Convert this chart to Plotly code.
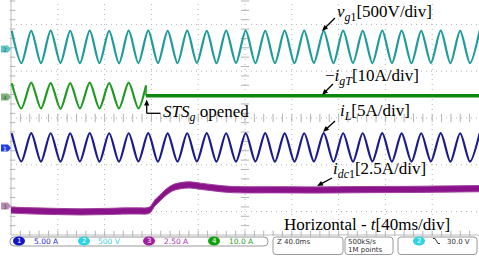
import math
import plotly.graph_objects as go

# ---------------- data ----------------
# times of the extrema (ms) of the 60 Hz waveforms, alternating peak / trough
t_ext = [0.6, 8.9, 17.3, 25.6, 33.9, 42.3, 50.6, 58.9, 67.3, 75.6, 83.9, 92.3,
         100.6, 108.9, 117.3, 125.6, 133.9, 142.3, 150.6, 158.9, 167.3, 175.6,
         183.9, 192.3, 200.6, 208.9, 217.3, 225.6, 233.9, 242.3, 250.6, 258.9,
         267.3, 275.6, 283.9, 292.3, 300.6, 308.9, 317.3, 325.6, 333.9, 342.3,
         350.6, 358.9, 367.3, 375.6, 383.9, 392.3, 400.6]
# grid voltage v_g1 (V) at the extrema
vg1 = [174, -171, 173, -172, 175, -170, 173, -172, 174, -171, 172, -173,
       174, -172, 175, -171, 173, -172, 174, -170, 173, -172, 175, -171,
       174, -172, 173, -171, 174, -172, 175, -170, 173, -172, 174, -171,
       173, -172, 175, -171, 174, -172, 173, -170, 174, -172, 173, -171, 174]
# -i_gT (A) before the static switch opens
igT_t = [0.6, 8.9, 17.3, 25.6, 33.9, 42.3, 50.6, 58.9, 67.3, 75.6, 83.9,
         92.3, 100.6, 108.9, 115.4]
igT = [2.7, -2.7, 2.8, -2.7, 2.7, -2.8, 2.7, -2.7, 2.8, -2.7, 2.7, -2.7,
       2.8, -2.7, 2.2]
# -i_gT (A) after STS_g opened
igT_off_t = [115.4, 400.0]
igT_off = [0.0, 0.0]
# inductor current i_L (A) at the extrema
iL = [1.52, -1.50, 1.53, -1.51, 1.52, -1.52, 1.51, -1.50, 1.53, -1.52, 1.52,
      -1.51, 1.52, -1.50, 1.53, -1.52, 1.51, -1.51, 1.52, -1.50, 1.53, -1.52,
      1.52, -1.51, 1.52, -1.50, 1.53, -1.52, 1.51, -1.51, 1.52, -1.50, 1.53,
      -1.52, 1.52, -1.51, 1.52, -1.50, 1.53, -1.52, 1.51, -1.51, 1.52, -1.50,
      1.53, -1.52, 1.52, -1.51, 1.52]
# dc current i_dc1 (A): upper and lower edge of the noisy band
idc_t = [0, 20, 40, 60, 80, 100, 110, 116, 119, 123, 127, 130, 134, 138, 144,
         153, 162, 175, 187, 200, 230, 260, 300, 340, 370, 400]
idc_hi = [-0.06, -0.10, -0.13, -0.15, -0.13, -0.10, -0.10, -0.10, -0.03, 0.33,
          0.57, 0.76, 0.97, 1.13, 1.24, 1.29, 1.22, 1.12, 1.05, 1.03, 1.03,
          1.02, 1.04, 1.05, 1.07, 1.09]
idc_lo = [-0.38, -0.43, -0.46, -0.48, -0.46, -0.43, -0.43, -0.43, -0.36, 0.00,
          0.24, 0.43, 0.64, 0.80, 0.91, 0.96, 0.89, 0.79, 0.72, 0.70, 0.70,
          0.69, 0.71, 0.72, 0.74, 0.76]

# channel settings (per division) and zero-level positions (divisions)
SC_VG1, SC_IGT, SC_IL, SC_IDC = 500.0, 10.0, 5.0, 2.5
OFF_VG1, OFF_IGT, OFF_IL, OFF_IDC = 4.017, 2.974, 1.870, 0.620

# ---------------- helpers (pixel -> axis) ----------------
PXD = 46.8          # pixels per division
PXMS = PXD / 40.0   # pixels per ms


def X(px):
    return (px - 11) / PXMS


def Y(py):
    return (235 - py) / PXD


def scr(vals, off, sc):
    return [off + v / sc for v in vals]


fig = go.Figure()

GRID = "#b4b4b4"
# dotted graticule
for k in range(1, 10):
    fig.add_shape(type="line", x0=40 * k, x1=40 * k, y0=0, y1=Y(0),
                  line=dict(color=GRID, width=1, dash="1px,4px"), layer="below")
for k in range(5):
    fig.add_shape(type="line", x0=0, x1=400, y0=0.5 + k, y1=0.5 + k,
                  line=dict(color=GRID, width=1, dash="1px,4px"), layer="below")
# borders
fig.add_shape(type="line", x0=0, x1=0, y0=0, y1=Y(0),
              line=dict(color="#bdbdbd", width=1), layer="below")
fig.add_shape(type="line", x0=0, x1=400, y0=0, y1=0,
              line=dict(color="#bdbdbd", width=1), layer="below")

# minor ticks
ty = [0.2 * i for i in range(1, 26)]
tx = [8 * i for i in range(1, 50)]


def tick_mk(sym, sz):
    return dict(symbol=sym, size=sz, color=GRID, line=dict(color=GRID, width=1))


fig.add_trace(go.Scatter(x=[200] * len(ty), y=ty, mode="markers",
                         marker=tick_mk("line-ew", 6), hoverinfo="skip"))
fig.add_trace(go.Scatter(x=[X(12.5)] * len(ty), y=ty, mode="markers",
                         marker=tick_mk("line-ew", 4), hoverinfo="skip"))
fig.add_trace(go.Scatter(x=tx, y=[2.5] * len(tx), mode="markers",
                         marker=tick_mk("line-ns", 6), hoverinfo="skip"))
fig.add_trace(go.Scatter(x=tx, y=[Y(233.5)] * len(tx), mode="markers",
                         marker=tick_mk("line-ns", 4), hoverinfo="skip"))

# ---------------- traces ----------------
fig.add_trace(go.Scatter(x=t_ext, y=scr(vg1, OFF_VG1, SC_VG1), mode="lines",
                         line=dict(color="#1f9b9b", width=2.2, shape="spline",
                                   smoothing=0.8)))
fig.add_trace(go.Scatter(x=igT_t, y=scr(igT, OFF_IGT, SC_IGT), mode="lines",
                         line=dict(color="#1f9a1f", width=2.2, shape="spline",
                                   smoothing=0.8)))
fig.add_trace(go.Scatter(x=[igT_t[-1], igT_off_t[0]],
                         y=[OFF_IGT + igT[-1] / SC_IGT, OFF_IGT + igT_off[0] / SC_IGT],
                         mode="lines", line=dict(color="#1f9a1f", width=1.5)))
fig.add_trace(go.Scatter(x=igT_off_t, y=scr(igT_off, OFF_IGT, SC_IGT), mode="lines",
                         line=dict(color="#0d870d", width=3.5)))
fig.add_trace(go.Scatter(x=t_ext, y=scr(iL, OFF_IL, SC_IL), mode="lines",
                         line=dict(color="#1b1b8f", width=2.2, shape="spline",
                                   smoothing=0.8)))
fig.add_trace(go.Scatter(x=idc_t, y=scr(idc_lo, OFF_IDC, SC_IDC), mode="lines",
                         line=dict(color="#a040a0", width=1, shape="spline")))
fig.add_trace(go.Scatter(x=idc_t, y=scr(idc_hi, OFF_IDC, SC_IDC), mode="lines",
                         fill="tonexty", fillcolor="#8a138a",
                         line=dict(color="#a040a0", width=1, shape="spline")))

# ---------------- labels & arrows ----------------
SERIF = "Liberation Serif"
labels = [
    (336, 13, "<i>v</i><sub><i>g</i>1</sub>[500V/div]"),
    (324, 77, "−<i>i</i><sub><i>gT</i></sub>[10A/div]"),
    (339, 112, "<i>i</i><sub><i>L</i></sub>[5A/div]"),
    (332, 170, "<i>i</i><sub><i>dc</i>1</sub>[2.5A/div]"),
    (162, 113, "<i>STS</i><sub><i>g</i></sub> opened"),
    (283, 224, "Horizontal - <i>t</i>[40ms/div]"),
]
for px, py, txt in labels:
    fig.add_annotation(x=X(px), y=Y(py), text=txt, showarrow=False,
                       xanchor="left", yanchor="middle", borderpad=0,
                       font=dict(family=SERIF, size=17, color="black"))


def arrow(t, h, L=6.0, W=2.6):
    (tx0, ty0), (hx, hy) = t, h
    dx, dy = hx - tx0, hy - ty0
    n = math.hypot(dx, dy)
    ux, uy = dx / n, dy / n
    px_, py_ = -uy, ux
    bx, by = hx - L * ux, hy - L * uy
    fig.add_shape(type="line", x0=X(tx0), y0=Y(ty0), x1=X(bx + 1.5 * ux),
                  y1=Y(by + 1.5 * uy), line=dict(color="black", width=1.3))
    path = "M {} {} L {} {} L {} {} Z".format(
        X(hx), Y(hy), X(bx + W * px_), Y(by + W * py_), X(bx - W * px_), Y(by - W * py_))
    fig.add_shape(type="path", path=path, fillcolor="black", line=dict(width=0))


arrow((335, 18), (322, 31))
arrow((333, 84), (322, 95))
arrow((335, 121), (323, 132))
arrow((332, 178), (317, 186))
arrow((146.7, 113.3), (146.7, 99.5))
fig.add_shape(type="line", x0=X(146.7), x1=X(160.5), y0=Y(113.3), y1=Y(113.3),
              line=dict(color="black", width=1.3))

# ---------------- channel markers on the left ----------------
for py, col, lab, tcol in [(49, "#5fc6c6", "2", "#2a6f6f"),
                           (97, "#7fb07f", "4", "#3c6a3c"),
                           (148, "#1f3fe6", "1", "white"),
                           (206, "#b38fb3", "3", "#6a3f6a")]:
    path = "M {} {} L {} {} L {} {} L {} {} L {} {} Z".format(
        X(1), Y(py - 3.5), X(8), Y(py - 3.5), X(11), Y(py), X(8), Y(py + 3.5),
        X(1), Y(py + 3.5))
    fig.add_shape(type="path", path=path, fillcolor=col, line=dict(width=0))
    fig.add_annotation(x=X(5), y=Y(py), text=lab, showarrow=False, borderpad=0,
                       font=dict(family="DejaVu Sans", size=6, color=tcol))


# ---------------- status bar ----------------
def rbox(x0, x1, y0, y1, r=3):
    p = ("M {} {} L {} {} Q {} {} {} {} L {} {} Q {} {} {} {} L {} {} "
         "Q {} {} {} {} L {} {} Q {} {} {} {} Z").format(
        X(x0 + r), Y(y0), X(x1 - r), Y(y0), X(x1), Y(y0), X(x1), Y(y0 + r),
        X(x1), Y(y1 - r), X(x1), Y(y1), X(x1 - r), Y(y1),
        X(x0 + r), Y(y1), X(x0), Y(y1), X(x0), Y(y1 - r),
        X(x0), Y(y0 + r), X(x0), Y(y0), X(x0 + r), Y(y0))
    fig.add_shape(type="path", path=p, line=dict(color="#9a9a9a", width=1),
                  fillcolor="rgba(0,0,0,0)")


rbox(10, 268, 237, 246, r=4)
rbox(273, 343, 237, 254.5)
rbox(345, 393, 237, 254.5)
rbox(398, 477, 237, 254.5)

MONO = "DejaVu Sans"
chan = [(19, "#1414c8", "1", 33, "5.00 A", "#2a2ad0"),
        (84, "#2ed3e3", "2", 97, "500 V", "#3fd0e0"),
        (149, "#a01ea0", "3", 163, "2.50 A", "#b02cb0"),
        (214, "#12a012", "4", 228, "10.0 A", "#1e9e1e")]
for cx, ccol, num, tx0, txt, tcol in chan:
    fig.add_shape(type="circle", x0=X(cx - 6), x1=X(cx + 6), y0=Y(245.5), y1=Y(236.5),
                  fillcolor=ccol, line=dict(width=0))
    fig.add_annotation(x=X(cx), y=Y(241), text=num, showarrow=False, borderpad=0,
                       font=dict(family=MONO, size=7, color="white"))
    fig.add_annotation(x=X(tx0), y=Y(241), text=txt, showarrow=False, borderpad=0,
                       xanchor="left", font=dict(family=MONO, size=7.5, color=tcol))

for px, py, txt in [(276, 241.5, "Z 40.0ms"), (347, 241.5, "500kS/s"),
                    (347, 249.5, "1M points")]:
    fig.add_annotation(x=X(px), y=Y(py), text=txt, showarrow=False, borderpad=0,
                       xanchor="left", font=dict(family=MONO, size=7, color="#303030"))
fig.add_shape(type="circle", x0=X(413), x1=X(425), y0=Y(245.5), y1=Y(236.5),
              fillcolor="#2ed3e3", line=dict(width=0))
fig.add_annotation(x=X(419), y=Y(241), text="2", showarrow=False, borderpad=0,
                   font=dict(family=MONO, size=7, color="white"))
fig.add_shape(type="path",
              path="M {} {} L {} {} L {} {} L {} {}".format(
                  X(433), Y(238.5), X(435), Y(238.5), X(438), Y(243.5), X(440), Y(243.5)),
              line=dict(color="#303030", width=1))
fig.add_annotation(x=X(446), y=Y(241.5), text="30.0 V", showarrow=False, borderpad=0,
                   xanchor="left", font=dict(family=MONO, size=7, color="#303030"))

fig.update_layout(
    width=479, height=256, margin=dict(l=0, r=0, t=0, b=0),
    paper_bgcolor="white", plot_bgcolor="white", showlegend=False,
    xaxis=dict(range=[X(0), X(479)], visible=False, fixedrange=True),
    yaxis=dict(range=[Y(256), Y(0)], visible=False, fixedrange=True),
)
fig.write_html("out.html", config={"displayModeBar": False, "staticPlot": True},
               post_script="document.body.style.margin='0';"
                           "document.body.style.overflow='hidden';")
